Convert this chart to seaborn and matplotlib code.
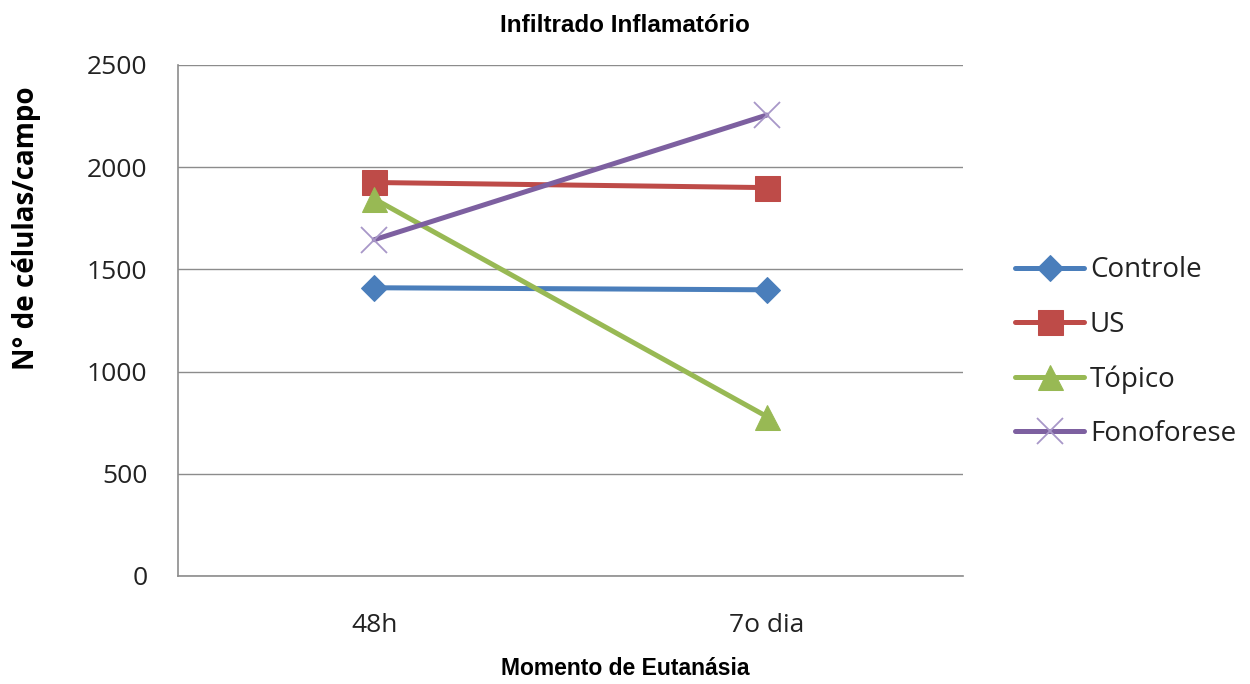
import matplotlib
matplotlib.use("Agg")
import matplotlib.pyplot as plt
import seaborn as sns
import pandas as pd

# Data: inflammatory infiltrate (cells per field) by euthanasia time point
momentos = ["48h", "7o dia"]
grupos = ["Controle", "US", "Tópico", "Fonoforese"]
controle = [1410, 1400]
us = [1925, 1900]
topico = [1845, 780]
fonoforese = [1645, 2255]

valores = {"Controle": controle, "US": us, "Tópico": topico, "Fonoforese": fonoforese}
rows = []
for g in grupos:
    for m, v in zip(momentos, valores[g]):
        rows.append({"Momento": m, "Valor": v, "Grupo": g})
df = pd.DataFrame(rows)

sns.set_theme(style="white")
plt.rcParams["font.family"] = ["Open Sans", "DejaVu Sans"]

cores = {"Controle": "#4A7EBB", "US": "#BE4B48", "Tópico": "#98B954", "Fonoforese": "#7D60A0"}
estilos = {
    "Controle": dict(marker="D", markersize=13, markerfacecolor="#4A7EBB", markeredgecolor="#4A7EBB"),
    "US": dict(marker="s", markersize=18, markerfacecolor="#BE4B48", markeredgecolor="#BE4B48"),
    "Tópico": dict(marker="^", markersize=18, markerfacecolor="#98B954", markeredgecolor="#98B954"),
    "Fonoforese": dict(marker="x", markersize=19, markeredgecolor="#A897C8", markeredgewidth=1.3),
}

fig = plt.figure(figsize=(12.5, 6.84), dpi=100)
ax = fig.add_axes([0.1424, 0.158, 0.628, 0.747])

for g in grupos:
    sub = df[df["Grupo"] == g]
    sns.lineplot(data=sub, x="Momento", y="Valor", ax=ax, color=cores[g],
                 linewidth=3.6, label=g, sort=False, **estilos[g])

ax.set_xlim(-0.5, 1.5)
ax.set_ylim(0, 2500)
ax.set_yticks([0, 500, 1000, 1500, 2000, 2500])
ax.yaxis.grid(True, color="#8C8C8C", linewidth=1.0)
ax.set_axisbelow(True)

# Category boundary ticks on the x axis, labels centred on each category
ax.set_xticks([-0.5, 0.5, 1.5], minor=False)
ax.set_xticklabels([])
ax.set_xticks([0, 1], minor=True)
ax.set_xticklabels(momentos, minor=True)
ax.tick_params(axis="x", which="major", direction="out", length=9, color="#8C8C8C", width=1)
ax.tick_params(axis="x", which="minor", length=0, pad=27, labelsize=19, labelcolor="#222222")
ax.tick_params(axis="y", direction="out", length=9, color="#8C8C8C", width=1, pad=13,
               labelsize=19, labelcolor="#222222")

for side in ["top", "right"]:
    ax.spines[side].set_visible(False)
for side in ["left", "bottom"]:
    ax.spines[side].set_color("#8C8C8C")
    ax.spines[side].set_linewidth(1.2)

ax.set_xlabel("")
ax.set_ylabel("")
fig.text(0.5, 0.963, "Infiltrado Inflamatório", ha="center", va="center", fontsize=17.5,
         fontweight="bold", family=["Liberation Sans", "DejaVu Sans"], color="black")
fig.text(0.5, 0.022, "Momento de Eutanásia", ha="center", va="center", fontsize=16.5,
         fontweight="bold", family=["Liberation Sans", "DejaVu Sans"], color="black")
fig.text(0.021, 0.667, "N° de células/campo", ha="center", va="center", rotation=90,
         fontsize=20, fontweight="bold", family=["Open Sans", "DejaVu Sans"], color="black")

handles, labels = ax.get_legend_handles_labels()
leg = ax.legend(handles, labels, loc="center left", bbox_to_anchor=(1.066, 0.438),
                frameon=False, fontsize=20, handlelength=2.5, handletextpad=0.2,
                labelspacing=0.95, borderaxespad=0, borderpad=0)
for t in leg.get_texts():
    t.set_color("#222222")

fig.savefig("out.png", dpi=100, facecolor="white")
